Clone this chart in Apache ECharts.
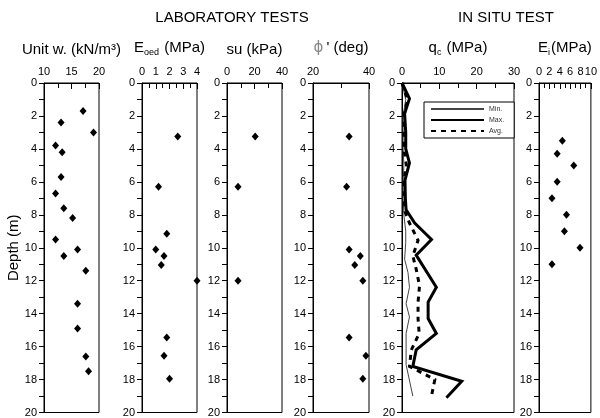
<!DOCTYPE html>
<html>
<head>
<meta charset="utf-8">
<script src="https://cdn.jsdelivr.net/npm/echarts@6/dist/echarts.min.js"></script>
<style>
  html, body { margin: 0; padding: 0; background: #fff; }
  #chart { width: 600px; height: 418px; }
</style>
</head>
<body>
<div id="chart"></div>
<script>
// Depth scale shared by every profile (m)
const depthTicks = [0, 2, 4, 6, 8, 10, 12, 14, 16, 18, 20];

// Laboratory tests
const unitWeightDepth = [1.7, 2.4, 3.0, 3.8, 4.2, 5.7, 6.7, 7.6, 8.2, 9.5, 10.1, 10.5, 11.4, 13.4, 14.9, 16.6, 17.5];
const unitWeight      = [17.1, 13.1, 19.0, 12.1, 13.3, 13.1, 12.1, 13.6, 15.2, 12.1, 16.1, 13.6, 17.6, 16.1, 16.1, 17.6, 18.1];

const eoedDepth = [3.25, 6.3, 9.15, 10.1, 10.5, 11.05, 12.0, 15.45, 16.55, 17.95];
const eoed      = [2.6, 1.2, 1.8, 1.0, 1.6, 1.4, 4.0, 1.8, 1.6, 2.0];

const suDepth = [3.25, 6.3, 12.0];
const su      = [20.5, 8, 8];

const phiDepth = [3.25, 6.3, 10.1, 10.5, 11.05, 12.0, 15.45, 16.55, 17.95];
const phi      = [32.9, 32.0, 32.9, 36.9, 34.9, 37.8, 32.9, 38.9, 37.8];

// In situ test: cone resistance envelope
const qcMinDepth = [0, 1.0, 2.0, 4.0, 5.0, 6.0, 7.0, 8.0, 9.0, 9.7, 10.7, 11.5, 12.4, 13.4, 14.2, 15.2, 17.1, 19.0];
const qcMin      = [0, 1.0, 0.3, 0.3, 0.5, 0.3, 0.3, 0.5, 1.0, 1.0, 0.7, 1.6, 2.0, 1.1, 2.0, 1.1, 1.1, 2.9];

const qcMaxDepth = [0, 0.95, 1.85, 3.0, 4.0, 4.85, 5.9, 7.0, 7.7, 8.5, 9.5, 10.45, 12.4, 13.3, 14.3, 15.2, 16.2, 17.2, 18.1, 19.1];
const qcMax      = [0, 2.0, 0.7, 1.0, 1.0, 2.0, 0.8, 0.9, 1.1, 3.4, 7.9, 3.8, 9.2, 7.0, 7.0, 9.2, 3.8, 2.9, 16.0, 11.9];

const qcAvgDepth = [0, 1.0, 2.0, 3.0, 4.0, 5.0, 6.0, 7.0, 7.8, 8.5, 9.55, 10.5, 11.3, 12.3, 13.3, 14.3, 15.2, 16.2, 17.2, 18.0, 19.0];
const qcAvg      = [0, 1.5, 0.5, 0.5, 0.5, 1.2, 0.5, 0.6, 0.8, 2.0, 4.3, 2.9, 3.8, 4.7, 4.3, 4.3, 4.6, 2.5, 2.0, 8.8, 7.9];

const eiDepth = [3.5, 4.3, 5.0, 6.0, 7.0, 8.0, 9.0, 10.0, 11.0];
const ei      = [4.5, 3.5, 6.7, 3.5, 2.5, 5.3, 4.9, 7.9, 2.5];

// Panel frames and horizontal scales
const panels = [
  { left: 44,  width: 55,  min: 10, max: 20, interval: 5,  name: 'Unit w. (kN/m³)' },
  { left: 142, width: 55,  min: 0,  max: 4,  interval: 1,  name: '{t|E}{s|oed}{t| (MPa)}' },
  { left: 227, width: 55,  min: 0,  max: 40, interval: 20, name: 'su (kPa)' },
  { left: 313, width: 56,  min: 20, max: 40, interval: 20, name: '{g|ϕ}{t|\u2009\' (deg)}' },
  { left: 402, width: 112, min: 0,  max: 30, interval: 10, name: '{t|q}{s|c}{t| (MPa)}' },
  { left: 539, width: 55,  min: 0,  max: 10, interval: 2,  name: '{t|E}{s|i}{t|(MPa)}' }
];

const FONT = '"Liberation Sans", Arial, sans-serif';
const TOP = 83, HEIGHT = 330;

const pair = (xs, ys) => xs.map((v, i) => [v, ys[i]]);

const grids = panels.map(p => ({
  left: p.left, top: TOP, width: p.width, height: HEIGHT,
  show: true, borderColor: '#000', borderWidth: 1, backgroundColor: 'transparent'
}));

const richName = {
  t: { fontSize: 15, color: '#000', fontFamily: FONT, lineHeight: 18 },
  s: { fontSize: 9, color: '#000', fontFamily: FONT, lineHeight: 9, verticalAlign: 'bottom', padding: [0, 1, 0, 0] },
  g: { fontSize: 15, color: '#888', fontFamily: 'DejaVu Sans', lineHeight: 18 }
};

const xAxes = panels.map((p, i) => ({
  gridIndex: i, type: 'value', position: 'top',
  min: p.min, max: p.max, interval: p.interval,
  axisLine: { show: true, onZero: false, lineStyle: { color: '#000', width: 1 } },
  axisTick: { show: true, inside: true, length: 6, lineStyle: { color: '#000' } },
  minorTick: { show: true, splitNumber: 2, length: 5, lineStyle: { color: '#000' } },
  splitLine: { show: false },
  axisLabel: { fontSize: 11, color: '#000', margin: 6, fontFamily: FONT },
  name: p.name, nameLocation: 'middle', nameGap: 26,
  nameTextStyle: { fontSize: 15, color: '#000', fontFamily: FONT, rich: richName }
}));

const yAxes = panels.map((p, i) => ({
  gridIndex: i, type: 'value', inverse: true,
  min: depthTicks[0], max: depthTicks[depthTicks.length - 1], interval: depthTicks[1] - depthTicks[0],
  axisLine: { show: true, onZero: false, lineStyle: { color: '#000', width: 1 } },
  axisTick: { show: true, inside: false, length: 5, lineStyle: { color: '#000' } },
  minorTick: { show: true, splitNumber: 2, length: 5, lineStyle: { color: '#000' } },
  splitLine: { show: false },
  axisLabel: { fontSize: 11, color: '#000', margin: 7, fontFamily: FONT },
  name: i === 0 ? 'Depth (m)' : '', nameLocation: 'middle', nameGap: 23,
  nameTextStyle: { fontSize: 15, color: '#000', fontFamily: FONT }
}));

const scatter = (idx, xs, ys) => ({
  type: 'scatter', xAxisIndex: idx, yAxisIndex: idx,
  data: pair(xs, ys), symbol: 'diamond', symbolSize: [7, 8],
  itemStyle: { color: '#000', opacity: 1 }, clip: false, silent: true
});

const qcLine = (name, xs, ys, width, type, color) => ({
  type: 'line', name, xAxisIndex: 4, yAxisIndex: 4,
  data: pair(xs, ys), symbol: 'none', showSymbol: false,
  lineStyle: { color, width, type, cap: 'butt', join: 'miter' },
  itemStyle: { color }, silent: true, animation: false
});

const chart = echarts.init(document.getElementById('chart'), null, { renderer: 'canvas' });
chart.setOption({
  animation: false,
  backgroundColor: '#fff',
  textStyle: { fontFamily: FONT },
  grid: grids,
  xAxis: xAxes,
  yAxis: yAxes,
  legend: {
    show: true, orient: 'vertical', left: 424, top: 102,
    itemWidth: 53, itemHeight: 10, itemGap: 3,
    padding: [3, 10, 3, 6],
    borderColor: '#000', borderWidth: 1, backgroundColor: '#fff',
    selectedMode: false,
    // line samples only, no point marker in the key
    itemStyle: { opacity: 0, borderWidth: 0 },
    textStyle: { fontSize: 7, color: '#333', fontFamily: FONT },
    data: ['Min.', 'Max.', 'Avg.']
  },
  graphic: [
    { type: 'text', x: 232, y: 18, style: { text: 'LABORATORY TESTS', fontSize: 15, fill: '#000', fontFamily: FONT, align: 'center', verticalAlign: 'middle', textAlign: 'center', textVerticalAlign: 'middle' } },
    { type: 'text', x: 506, y: 18, style: { text: 'IN SITU TEST', fontSize: 15, fill: '#000', fontFamily: FONT, align: 'center', verticalAlign: 'middle', textAlign: 'center', textVerticalAlign: 'middle' } }
  ],
  series: [
    scatter(0, unitWeight, unitWeightDepth),
    scatter(1, eoed, eoedDepth),
    scatter(2, su, suDepth),
    scatter(3, phi, phiDepth),
    qcLine('Min.', qcMin, qcMinDepth, 1, 'solid', '#444'),
    qcLine('Max.', qcMax, qcMaxDepth, 3, 'solid', '#000'),
    qcLine('Avg.', qcAvg, qcAvgDepth, 3, [5, 5], '#000'),
    scatter(5, ei, eiDepth)
  ]
});
</script>
</body>
</html>
